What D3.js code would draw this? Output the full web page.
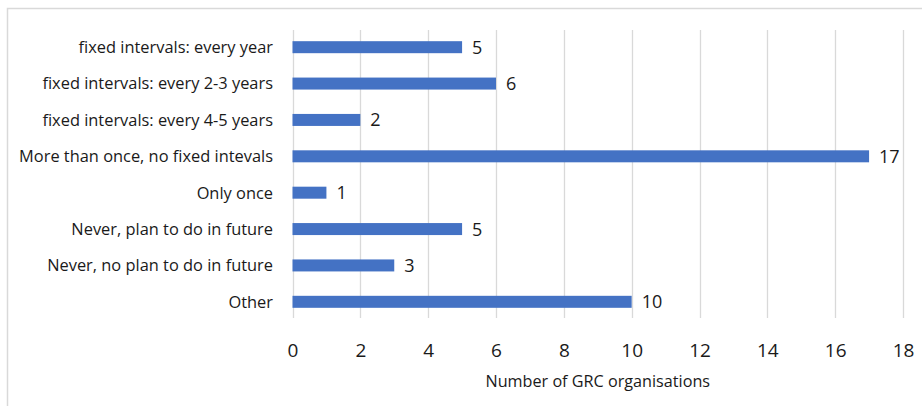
<!DOCTYPE html>
<html><head><meta charset="utf-8">
<script src="https://cdn.jsdelivr.net/npm/d3@7"></script>
<style>
html,body{margin:0;padding:0;background:#fff;}
svg{display:block;font-family:"Open Sans",sans-serif;}
</style></head>
<body>
<svg id="c" width="922" height="406"></svg>
<script>
const categories = [
  "fixed intervals: every year",
  "fixed intervals: every 2-3 years",
  "fixed intervals: every 4-5 years",
  "More than once, no fixed intevals",
  "Only once",
  "Never, plan to do in future",
  "Never, no plan to do in future",
  "Other"
];
const values = [5, 6, 2, 17, 1, 5, 3, 10];
const xTicks = [0, 2, 4, 6, 8, 10, 12, 14, 16, 18];
const xTitle = "Number of GRC organisations";

const svg = d3.select("#c");
// outer border
svg.append("rect").attr("x", 7.5).attr("y", 8.5).attr("width", 930).attr("height", 420)
  .attr("fill", "none").attr("stroke", "#d9d9d9").attr("stroke-width", 1.5);

const x = d3.scaleLinear().domain([0, 18]).range([292.5, 903]);
const y = d3.scaleBand().domain(categories).range([29, 320]).paddingInner(0.66).paddingOuter(0.33);

// gridlines
svg.append("g").selectAll("line").data(xTicks).join("line")
  .attr("x1", d => Math.round(x(d)) + 0.5).attr("x2", d => Math.round(x(d)) + 0.5)
  .attr("y1", 30).attr("y2", 318)
  .attr("stroke", "#d9d9d9").attr("stroke-width", 1.3);

// bars
const data = categories.map((c, i) => ({c, v: values[i]}));
svg.append("g").selectAll("rect").data(data).join("rect")
  .attr("x", x(0)).attr("y", d => y(d.c) + y.bandwidth()/2 - 6)
  .attr("width", d => x(d.v) - x(0)).attr("height", 12)
  .attr("fill", "#4472C4");

// value labels
svg.append("g").selectAll("text").data(data).join("text")
  .attr("x", d => x(d.v) + 10).attr("y", d => y(d.c) + y.bandwidth()/2)
  .attr("dy", "0.36em")
  .attr("font-size", 18).attr("fill", "#1a1a1a")
  .text(d => d.v);

// category labels
svg.append("g").selectAll("text").data(categories).join("text")
  .attr("x", 273).attr("y", d => y(d) + y.bandwidth()/2)
  .attr("dy", "0.36em").attr("text-anchor", "end")
  .attr("font-size", 16.4).attr("fill", "#1a1a1a")
  .text(d => d);

// x axis tick labels
const xAxis = d3.axisBottom(x).tickValues(xTicks).tickSize(0).tickPadding(0);
const gx = svg.append("g").attr("transform", "translate(0,343)").call(xAxis);
gx.select(".domain").remove();
gx.selectAll("text").attr("font-size", 19).attr("fill", "#1a1a1a")
  .attr("font-family", "'Open Sans',sans-serif").attr("dy", "0.71em");

// axis title
svg.append("text").attr("x", (x(0) + x(18)) / 2).attr("y", 386.5)
  .attr("text-anchor", "middle").attr("font-size", 16.2).attr("fill", "#1a1a1a")
  .text(xTitle);
</script>
</body></html>
